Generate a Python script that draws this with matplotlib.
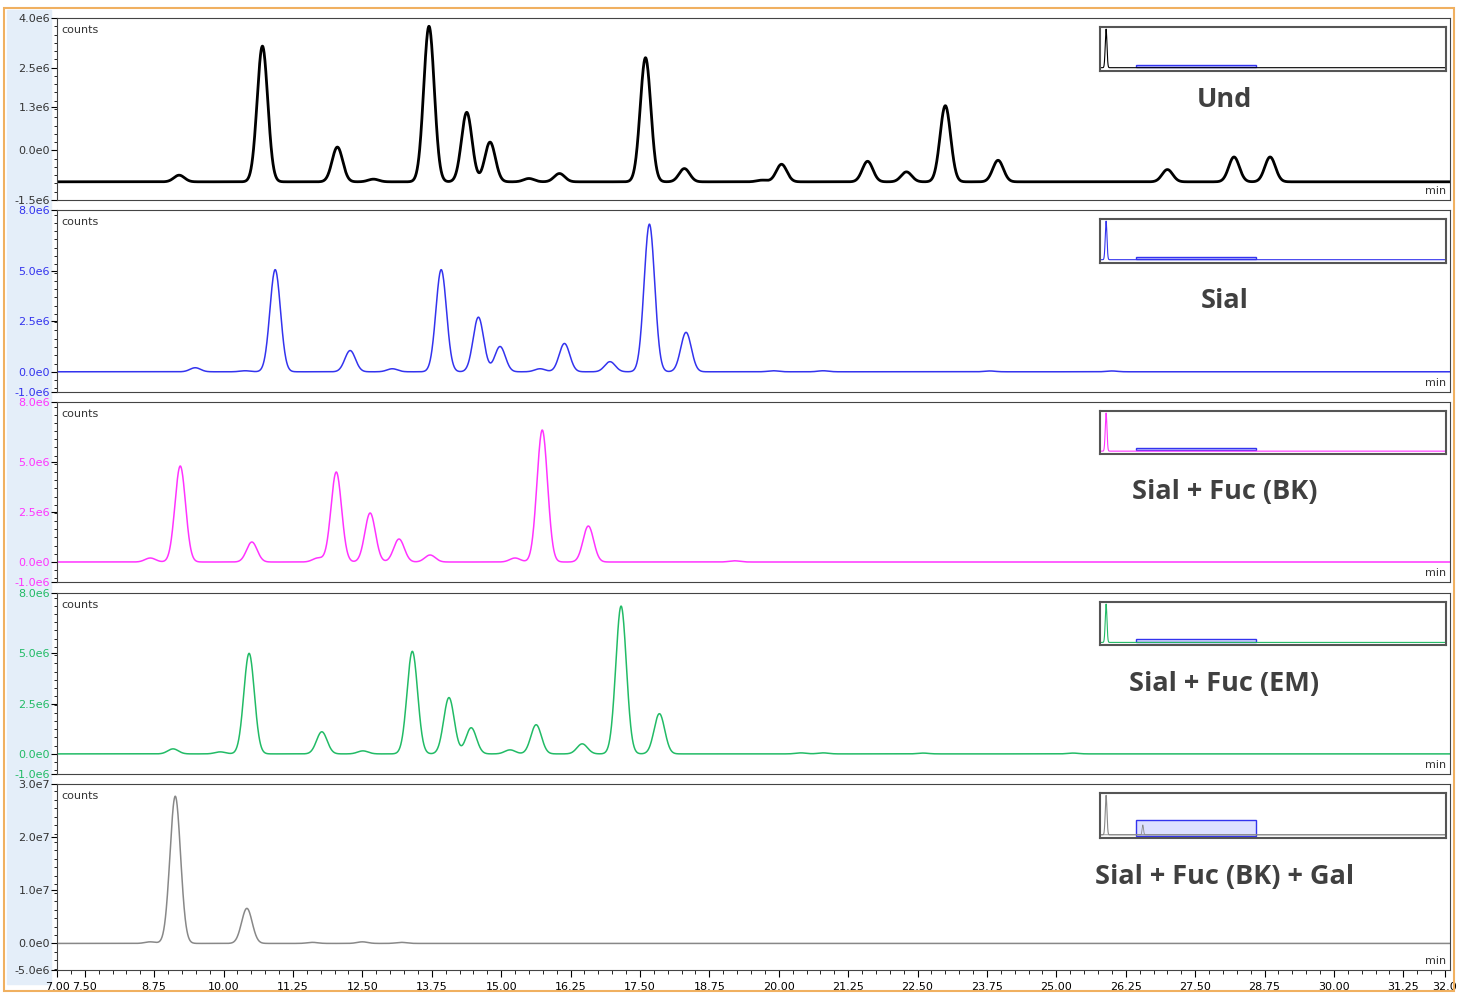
import matplotlib.pyplot as plt
import numpy as np

# peak lists per trace: retention time (min), height
und_rt = [9.2, 10.7, 12.05, 12.7, 13.7, 14.38, 14.8, 15.5, 16.05, 17.6, 18.3, 19.7, 20.05, 21.6, 22.3, 23.0, 23.95, 27.0, 28.2, 28.85]
und_h = [0.2, 4.1, 1.05, 0.08, 4.7, 2.1, 1.2, 0.1, 0.25, 3.75, 0.4, 0.05, 0.53, 0.62, 0.3, 2.3, 0.65, 0.37, 0.75, 0.75]
und_base = -0.95

sial_rt = [9.49, 10.39, 10.93, 12.28, 13.04, 13.92, 14.59, 14.98, 15.7, 16.14, 16.96, 17.67, 18.33, 19.9, 20.8, 23.8, 26.0]
sial_h = [0.2, 0.05, 5.05, 1.05, 0.15, 5.05, 2.7, 1.25, 0.15, 1.4, 0.5, 7.3, 1.95, 0.05, 0.05, 0.04, 0.04]

fuc_bk_rt = [8.68, 9.22, 10.51, 11.7, 12.03, 12.64, 13.16, 13.72, 15.25, 15.74, 16.57, 19.2]
fuc_bk_h = [0.2, 4.8, 1.0, 0.2, 4.5, 2.45, 1.15, 0.35, 0.2, 6.6, 1.8, 0.06]

fuc_em_rt = [9.09, 9.94, 10.46, 11.77, 12.51, 13.4, 14.06, 14.46, 15.16, 15.63, 16.46, 17.16, 17.85, 20.4, 20.8, 22.6, 25.3]
fuc_em_h = [0.25, 0.1, 5.0, 1.1, 0.15, 5.1, 2.8, 1.3, 0.2, 1.45, 0.5, 7.35, 2.0, 0.05, 0.05, 0.04, 0.04]

gal_rt = [8.68, 9.13, 10.42, 11.6, 12.5, 13.2]
gal_h = [0.03, 2.77, 0.66, 0.02, 0.03, 0.02]

labels = ["Und", "Sial", "Sial + Fuc (BK)", "Sial + Fuc (EM)", "Sial + Fuc (BK) + Gal"]
colors = ["black", "#3333ee", "#ff33ff", "#22bb66", "#888888"]
ylims = [(-1.5, 4.0), (-1.0, 8.0), (-1.0, 8.0), (-1.0, 8.0), (-0.5, 3.0)]
yticks = [[-1.5, 0.0, 1.3, 2.5, 4.0], [-1.0, 0.0, 2.5, 5.0, 8.0], [-1.0, 0.0, 2.5, 5.0, 8.0],
          [-1.0, 0.0, 2.5, 5.0, 8.0], [-0.5, 0.0, 1.0, 2.0, 3.0]]
yticklabels = [["-1.5e6", "0.0e0", "1.3e6", "2.5e6", "4.0e6"],
               ["-1.0e6", "0.0e0", "2.5e6", "5.0e6", "8.0e6"],
               ["-1.0e6", "0.0e0", "2.5e6", "5.0e6", "8.0e6"],
               ["-1.0e6", "0.0e0", "2.5e6", "5.0e6", "8.0e6"],
               ["-5.0e6", "0.0e0", "1.0e7", "2.0e7", "3.0e7"]]
peaks = [(und_rt, und_h, und_base), (sial_rt, sial_h, 0.0), (fuc_bk_rt, fuc_bk_h, 0.0),
         (fuc_em_rt, fuc_em_h, 0.0), (gal_rt, gal_h, 0.0)]
panel_px = [(18, 200), (210, 392), (402, 582), (593, 774), (784, 970)]

t = np.linspace(7, 32.1, 5000)


def trace(rt, h, base):
    y = np.full_like(t, base)
    for c, a in zip(rt, h):
        y += a * np.exp(-0.5 * ((t - c) / 0.095) ** 2)
    return y


W, H = 1458, 994
fig = plt.figure(figsize=(W / 100, H / 100), dpi=100)
fig.patch.set_facecolor("white")
# light blue strip on the left and orange frame
fig.add_artist(plt.Rectangle((0.005, 0.01), 0.03, 0.98, color="#e4eef9", transform=fig.transFigure, zorder=0))
fig.add_artist(plt.Rectangle((0.003, 0.003), 0.994, 0.989, fill=False, ec="#f0b060", lw=1.5, transform=fig.transFigure))

L, R = 57 / W, 1450 / W
for i in range(5):
    top, bot = panel_px[i]
    ax = fig.add_axes([L, 1 - bot / H, R - L, (bot - top) / H])
    rt, h, base = peaks[i]
    ax.plot(t, trace(rt, h, base), color=colors[i], lw=2 if i == 0 else 1.1)
    ax.set_xlim(7, 32.09)
    ax.set_ylim(*ylims[i])
    ax.set_yticks(yticks[i])
    ax.set_yticklabels(yticklabels[i], fontsize=8, color=colors[i] if i in (1, 2, 3) else "#333333")
    ax.yaxis.set_minor_locator(plt.MultipleLocator((ylims[i][1] - ylims[i][0]) / 22))
    ax.tick_params(axis="y", length=4, pad=1)
    ax.tick_params(axis="y", which="minor", length=2)
    for s in ax.spines.values():
        s.set_color("#444444")
    ax.text(0.003, 0.96, "counts", transform=ax.transAxes, fontsize=8, va="top", color="#333333")
    ax.text(0.997, 0.02, "min", transform=ax.transAxes, fontsize=8, ha="right", va="bottom", color="#333333")
    ax.text(0.838, 0.5 if i > 0 else 0.55, labels[i], transform=ax.transAxes, fontsize=19.5, fontweight="bold",
            color="#404040", ha="center", va="center", family="Open Sans")
    if i < 4:
        ax.set_xticks([])
    else:
        xt = [7.0, 7.5, 8.75, 10.0, 11.25, 12.5, 13.75, 15.0, 16.25, 17.5, 18.75, 20.0, 21.25, 22.5,
              23.75, 25.0, 26.25, 27.5, 28.75, 30.0, 31.25, 32.0]
        ax.set_xticks(xt)
        ax.set_xticklabels(["%.2f" % v if v != 32.0 else "32.0" for v in xt], fontsize=8)
        ax.xaxis.set_minor_locator(plt.MultipleLocator(0.25))
        ax.tick_params(axis="x", length=5)
        ax.tick_params(axis="x", which="minor", length=3)
    # overview inset
    ins = ax.inset_axes([0.749, 0.71, 0.248, 0.24])
    tt = np.linspace(0, 60, 2000)
    yy = np.exp(-0.5 * ((tt - 0.8) / 0.15) ** 2)
    ins.plot(tt, yy, color=colors[i], lw=0.8)
    if i == 4:
        ins.plot(tt, 0.25 * np.exp(-0.5 * ((tt - 7.2) / 0.12) ** 2), color=colors[i], lw=0.6)
        ins.add_patch(plt.Rectangle((6, -0.02), 21, 0.4, fc="#dde0ff", ec="#3333ee", lw=1))
    else:
        ins.add_patch(plt.Rectangle((6, 0.02), 21, 0.06, fc="#dde0ff", ec="#3333ee", lw=1))
    ins.set_xlim(-0.2, 60)
    ins.set_ylim(-0.08, 1.05)
    ins.set_xticks([])
    ins.set_yticks([])
    for s in ins.spines.values():
        s.set_color("#555555")
        s.set_linewidth(1.5)

fig.savefig("out.png", dpi=100)
